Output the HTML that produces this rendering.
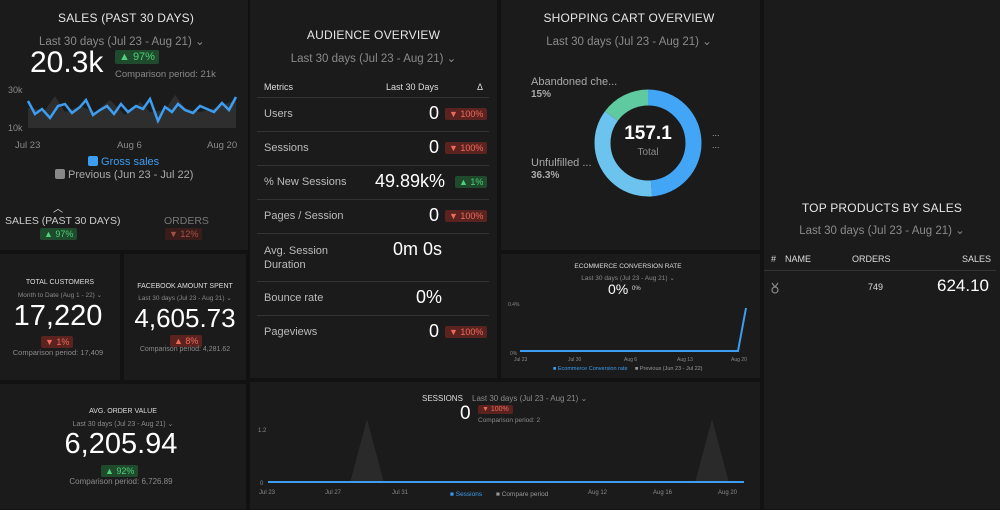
<!DOCTYPE html>
<html><head><meta charset="utf-8"><style>
*{margin:0;padding:0;box-sizing:border-box}
body{width:1000px;height:509px;background:#121212;font-family:"Liberation Sans",sans-serif;color:#ddd;position:relative;overflow:hidden}
.p{position:absolute;background:#1b1b1b}
.a{position:absolute;white-space:nowrap}
.t{font-size:12px;color:#e6e6e6;letter-spacing:.2px}
.d{font-size:12px;color:#8a8a8a}
.g{background:#1f4a2c;color:#4fd07a;font-size:10px;padding:1px 4px;border-radius:2px}
.r{background:#5a2320;color:#f06a5a;font-size:10px;padding:1px 4px;border-radius:2px}
.c{text-align:center}
.row{position:absolute;left:8px;width:232px;border-top:1px solid #333}
</style></head><body>

<!-- Sales panel -->
<div class="p" style="left:0;top:0;width:248px;height:196px"></div>
<div class="a t" style="left:58px;top:11px;font-size:12px">SALES (PAST 30 DAYS)</div>
<div class="a d" style="left:39px;top:34px;font-size:11.5px">Last 30 days (Jul 23 - Aug 21) ⌄</div>
<div class="a" style="left:30px;top:46px;font-size:30px;color:#fff">20.3k</div>
<div class="a g" style="left:115px;top:50px;font-size:11px">▲ 97%</div>
<div class="a d" style="left:115px;top:69px;font-size:9.5px">Comparison period: 21k</div>
<div class="a d" style="left:8px;top:85px;font-size:9px">30k</div>
<div class="a d" style="left:8px;top:123px;font-size:9px">10k</div>
<svg class="a" style="left:0;top:0" width="248" height="196">
<polygon fill="#2e2e2e" points="28,128 28,108 45,110 55,96 65,112 80,106 95,112 110,100 125,115 140,102 150,112 165,110 175,95 185,108 200,112 215,108 236,100 236,128"/>
<polyline fill="none" stroke="#3d9df0" stroke-width="2.5" points="28,101 35,114 42,109 50,118 58,106 65,104 72,113 80,107 86,100 93,115 100,110 107,106 114,114 121,104 128,112 136,106 143,109 150,99 158,121 165,107 172,112 178,104 185,110 193,113 200,106 207,109 214,112 222,103 229,110 236,97"/>
</svg>
<div class="a d" style="left:15px;top:140px;font-size:9.5px">Jul 23</div>
<div class="a d" style="left:117px;top:140px;font-size:9.5px">Aug 6</div>
<div class="a d" style="left:207px;top:140px;font-size:9.5px">Aug 20</div>
<div class="a" style="left:88px;top:156px;font-size:11px;color:#3d9df0"><span style="display:inline-block;width:10px;height:10px;background:#3d9df0;border-radius:2px;vertical-align:-1px"></span> Gross sales</div>
<div class="a" style="left:55px;top:169px;font-size:11px;color:#aaa"><span style="display:inline-block;width:10px;height:10px;background:#888;border-radius:2px;vertical-align:-1px"></span> Previous (Jun 23 - Jul 22)</div>

<div class="p" style="left:0;top:196px;width:248px;height:54px"></div>
<div class="a" style="left:53px;top:200px;font-size:10px;color:#ddd">︿</div>
<div class="a" style="left:5px;top:215px;font-size:10.5px;color:#ccc">SALES (PAST 30 DAYS)</div>
<div class="a g" style="left:40px;top:228px;font-size:9px">▲ 97%</div>
<div class="a" style="left:164px;top:215px;font-size:10.5px;color:#777">ORDERS</div>
<div class="a r" style="left:165px;top:228px;font-size:9px;background:#3a1d1b;color:#a5524a">▼ 12%</div>

<!-- Total customers -->
<div class="p" style="left:0;top:254px;width:120px;height:126px"></div>
<div class="a c" style="left:0;top:279px;width:120px;font-size:7px;color:#ddd">TOTAL CUSTOMERS</div>
<div class="a c d" style="left:0;top:291px;width:120px;font-size:6.5px">Month to Date (Aug 1 - 22) ⌄</div>
<div class="a c" style="left:0;top:300px;width:116px;font-size:29px;color:#fff">17,220</div>
<div class="a r" style="left:41px;top:336px;font-size:9px">▼ 1%</div>
<div class="a c d" style="left:0;top:348px;width:116px;font-size:7.5px">Comparison period: 17,409</div>

<div class="p" style="left:124px;top:254px;width:122px;height:126px"></div>
<div class="a c" style="left:124px;top:283px;width:122px;font-size:7px;color:#ddd">FACEBOOK AMOUNT SPENT</div>
<div class="a c d" style="left:124px;top:294px;width:122px;font-size:6.5px">Last 30 days (Jul 23 - Aug 21) ⌄</div>
<div class="a c" style="left:124px;top:303px;width:122px;font-size:26px;color:#fff">4,605.73</div>
<div class="a r" style="left:170px;top:335px;font-size:9px">▲ 8%</div>
<div class="a c d" style="left:124px;top:346px;width:122px;font-size:7px">Comparison period: 4,281.62</div>

<!-- Avg order -->
<div class="p" style="left:0;top:384px;width:246px;height:125px"></div>
<div class="a c" style="left:0;top:408px;width:246px;font-size:7px;color:#ddd">AVG. ORDER VALUE</div>
<div class="a c d" style="left:0;top:420px;width:246px;font-size:7px">Last 30 days (Jul 23 - Aug 21) ⌄</div>
<div class="a c" style="left:0;top:428px;width:242px;font-size:29px;color:#fff">6,205.94</div>
<div class="a g" style="left:101px;top:465px;font-size:9px">▲ 92%</div>
<div class="a c d" style="left:0;top:477px;width:242px;font-size:8px">Comparison period: 6,726.89</div>

<!-- Audience overview -->
<div class="p" style="left:250px;top:0;width:247px;height:378px"></div>
<div class="a t c" style="left:250px;top:28px;width:247px;font-size:12px">AUDIENCE OVERVIEW</div>
<div class="a c d" style="left:250px;top:51px;width:247px;font-size:11.5px">Last 30 days (Jul 23 - Aug 21) ⌄</div>
<div class="a" style="left:264px;top:82px;font-size:9px;color:#ddd">Metrics</div>
<div class="a" style="left:386px;top:82px;font-size:9px;color:#ddd">Last 30 Days</div>
<div class="a" style="left:477px;top:82px;font-size:9px;color:#ddd">Δ</div>
<div class="row" style="left:257px;top:97px"></div>
<div class="a" style="left:264px;top:108px;font-size:11px;color:#bbb">Users</div>
<div class="a" style="left:429px;top:103px;font-size:18px;color:#fff">0</div>
<div class="a r" style="left:445px;top:108px;font-size:9px">▼ 100%</div>
<div class="row" style="left:257px;top:131px"></div>
<div class="a" style="left:264px;top:142px;font-size:11px;color:#bbb">Sessions</div>
<div class="a" style="left:429px;top:137px;font-size:18px;color:#fff">0</div>
<div class="a r" style="left:445px;top:142px;font-size:9px">▼ 100%</div>
<div class="row" style="left:257px;top:165px"></div>
<div class="a" style="left:264px;top:176px;font-size:11px;color:#bbb">% New Sessions</div>
<div class="a" style="left:375px;top:171px;font-size:18px;color:#fff">49.89k%</div>
<div class="a g" style="left:455px;top:176px;font-size:9px">▲ 1%</div>
<div class="row" style="left:257px;top:199px"></div>
<div class="a" style="left:264px;top:210px;font-size:11px;color:#bbb">Pages / Session</div>
<div class="a" style="left:429px;top:205px;font-size:18px;color:#fff">0</div>
<div class="a r" style="left:445px;top:210px;font-size:9px">▼ 100%</div>
<div class="row" style="left:257px;top:233px"></div>
<div class="a" style="left:264px;top:244px;font-size:11px;color:#bbb;line-height:14px">Avg. Session<br>Duration</div>
<div class="a" style="left:393px;top:239px;font-size:18px;color:#fff">0m 0s</div>
<div class="row" style="left:257px;top:281px"></div>
<div class="a" style="left:264px;top:292px;font-size:11px;color:#bbb">Bounce rate</div>
<div class="a" style="left:416px;top:287px;font-size:18px;color:#fff">0%</div>
<div class="row" style="left:257px;top:315px"></div>
<div class="a" style="left:264px;top:326px;font-size:11px;color:#bbb">Pageviews</div>
<div class="a" style="left:429px;top:321px;font-size:18px;color:#fff">0</div>
<div class="a r" style="left:445px;top:326px;font-size:9px">▼ 100%</div>

<!-- Shopping cart -->
<div class="p" style="left:501px;top:0;width:259px;height:250px"></div>
<div class="a t c" style="left:501px;top:11px;width:256px;font-size:12px">SHOPPING CART OVERVIEW</div>
<div class="a c d" style="left:501px;top:34px;width:256px;font-size:11.5px">Last 30 days (Jul 23 - Aug 21) ⌄</div>
<svg class="a" style="left:590px;top:85px" width="116" height="116">
<g transform="rotate(-90 58 58)">
<circle cx="58" cy="58" r="45.5" fill="none" stroke="#42a5f5" stroke-width="16" stroke-dasharray="139.2 146.7"/>
<circle cx="58" cy="58" r="45.5" fill="none" stroke="#6cc3ee" stroke-width="16" stroke-dasharray="0 139.2 103.8 43"/>
<circle cx="58" cy="58" r="45.5" fill="none" stroke="#5fc9a0" stroke-width="16" stroke-dasharray="0 243 43 0"/>
</g></svg>
<div class="a c" style="left:598px;top:123px;width:100px;font-size:19px;font-weight:bold;color:#fff">157.1</div>
<div class="a c d" style="left:598px;top:147px;width:100px;font-size:10px">Total</div>
<div class="a" style="left:531px;top:76px;font-size:11px;color:#aaa">Abandoned che...</div>
<div class="a" style="left:531px;top:89px;font-size:10px;color:#aaa;font-weight:bold">15%</div>
<div class="a" style="left:531px;top:157px;font-size:11px;color:#aaa">Unfulfilled ...</div>
<div class="a" style="left:531px;top:170px;font-size:10px;color:#aaa;font-weight:bold">36.3%</div>
<div class="a" style="left:712px;top:128px;font-size:9px;color:#aaa">...</div>
<div class="a" style="left:712px;top:140px;font-size:9px;color:#aaa">...</div>

<!-- Ecommerce conv -->
<div class="p" style="left:501px;top:254px;width:259px;height:124px"></div>
<div class="a c" style="left:501px;top:263px;width:254px;font-size:6.5px;color:#ddd">ECOMMERCE CONVERSION RATE</div>
<div class="a c d" style="left:501px;top:274px;width:254px;font-size:6.5px">Last 30 days (Jul 23 - Aug 21) ⌄</div>
<div class="a" style="left:608px;top:281px;font-size:14px;color:#fff">0%</div>
<div class="a" style="left:632px;top:286px;font-size:6px;color:#ddd">0%</div>
<div class="a d" style="left:508px;top:302px;font-size:5px">0.4%</div>
<div class="a d" style="left:510px;top:351px;font-size:5px">0%</div>
<svg class="a" style="left:500px;top:250px" width="260" height="130"><polyline fill="none" stroke="#3d9df0" stroke-width="2" points="20,101 238,101 246,58"/></svg>
<div class="a d" style="left:514px;top:357px;font-size:5px">Jul 23</div>
<div class="a d" style="left:568px;top:357px;font-size:5px">Jul 30</div>
<div class="a d" style="left:624px;top:357px;font-size:5px">Aug 6</div>
<div class="a d" style="left:677px;top:357px;font-size:5px">Aug 13</div>
<div class="a d" style="left:731px;top:357px;font-size:5px">Aug 20</div>
<div class="a" style="left:553px;top:366px;font-size:5.5px;color:#3d9df0">■ Ecommerce Conversion rate</div>
<div class="a" style="left:635px;top:366px;font-size:5.5px;color:#999">■ Previous (Jun 23 - Jul 22)</div>

<!-- Sessions -->
<div class="p" style="left:250px;top:382px;width:510px;height:127px"></div>
<div class="a" style="left:422px;top:394px;font-size:8px;color:#ddd">SESSIONS</div>
<div class="a d" style="left:472px;top:394px;font-size:8px">Last 30 days (Jul 23 - Aug 21) ⌄</div>
<div class="a" style="left:460px;top:403px;font-size:19px;color:#fff">0</div>
<div class="a r" style="left:478px;top:405px;font-size:7px">▼ 100%</div>
<div class="a d" style="left:478px;top:417px;font-size:6.5px">Comparison period: 2</div>
<div class="a d" style="left:258px;top:428px;font-size:6px">1.2</div>
<div class="a d" style="left:260px;top:481px;font-size:6px">0</div>
<svg class="a" style="left:250px;top:380px" width="510" height="130">
<polygon fill="#2a2a2a" points="100,103 117,39 134,103"/>
<polygon fill="#2a2a2a" points="445,103 462,39 479,103"/>
<line x1="18" y1="102" x2="494" y2="102" stroke="#3d9df0" stroke-width="2"/>
</svg>
<div class="a d" style="left:259px;top:490px;font-size:6px">Jul 23</div>
<div class="a d" style="left:325px;top:490px;font-size:6px">Jul 27</div>
<div class="a d" style="left:392px;top:490px;font-size:6px">Jul 31</div>
<div class="a d" style="left:588px;top:490px;font-size:6px">Aug 12</div>
<div class="a d" style="left:653px;top:490px;font-size:6px">Aug 16</div>
<div class="a d" style="left:718px;top:490px;font-size:6px">Aug 20</div>
<div class="a" style="left:450px;top:491px;font-size:6.5px;color:#3d9df0">■ Sessions</div>
<div class="a" style="left:496px;top:491px;font-size:6.5px;color:#999">■ Compare period</div>

<!-- Top products -->
<div class="p" style="left:764px;top:0;width:236px;height:509px"></div>
<div class="a t c" style="left:764px;top:201px;width:236px;font-size:12px">TOP PRODUCTS BY SALES</div>
<div class="a c d" style="left:764px;top:223px;width:236px;font-size:11.5px">Last 30 days (Jul 23 - Aug 21) ⌄</div>
<div class="a" style="left:771px;top:254px;font-size:9px;color:#ddd">#</div>
<div class="a" style="left:785px;top:254px;font-size:9px;color:#ddd">NAME</div>
<div class="a" style="left:852px;top:254px;font-size:9px;color:#ddd">ORDERS</div>
<div class="a" style="left:962px;top:254px;font-size:9px;color:#ddd">SALES</div>
<div class="a" style="left:764px;top:270px;width:232px;border-top:1px solid #333"></div>
<svg class="a" style="left:770px;top:282px" width="10" height="12"><path d="M2 1 L5 5 L8 1" fill="none" stroke="#888" stroke-width="1.2"/><circle cx="5" cy="8" r="3" fill="none" stroke="#888" stroke-width="1.2"/></svg>
<div class="a" style="left:868px;top:282px;font-size:9px;color:#ddd">749</div>
<div class="a" style="left:937px;top:276px;font-size:17px;color:#fff">624.10</div>
</body></html>
